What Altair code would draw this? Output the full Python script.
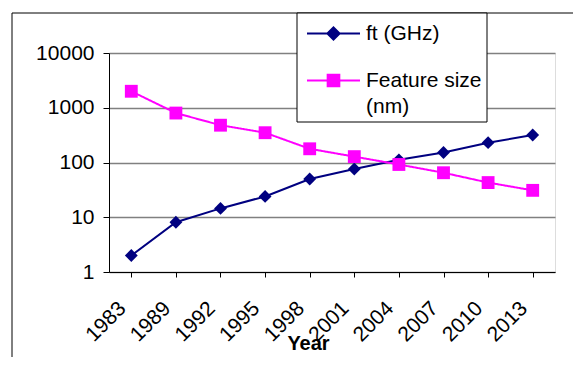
import altair as alt
import pandas as pd

years = ['1983', '1989', '1992', '1995', '1998', '2001', '2004', '2007', '2010', '2013']
ft_ghz = [2, 8.1, 14.5, 24, 50, 76, 112, 152, 230, 318]
feature_nm = [2000, 800, 480, 350, 178, 128, 92, 65, 43, 31]
series_names = ['ft (GHz)', 'Feature size (nm)']
series_colors = ['#000080', '#FF00FF']

df_ft = pd.DataFrame({'Year': years, 'value': ft_ghz, 'series': series_names[0]})
df_fs = pd.DataFrame({'Year': years, 'value': feature_nm, 'series': series_names[1]})

FONT = 'Liberation Sans'
FS = 21
W, H = 446, 219

x_enc = alt.X('Year:N', sort=years,
              scale=alt.Scale(paddingInner=0, paddingOuter=0),
              axis=alt.Axis(title='Year', bandPosition=0, labelAngle=-45, labelAlign='right',
                            labelBaseline='middle', labelOffset=-9, labelPadding=28,
                            labelFontSize=FS, labelFont=FONT, labelColor='black',
                            tickSize=5, tickColor='black', domainColor='black',
                            titleFont=FONT, titleFontSize=20, titleFontWeight='bold',
                            titleColor='black', titleX=199, titleY=71, titleBaseline='middle',
                            titleAlign='center'))
y_enc = alt.Y('value:Q',
              scale=alt.Scale(type='log', domain=[1, 10000], nice=False),
              axis=alt.Axis(title=None, values=[1, 10, 100, 1000, 10000], format='d',
                            labelFontSize=FS, labelFont=FONT, labelColor='black',
                            labelPadding=9, tickSize=6, tickColor='black',
                            domainColor='black', grid=True, gridColor='#808080',
                            gridWidth=1.5))

sym_ft = 'M-1,0L1,0M-0.23,0L0,-0.23L0.23,0L0,0.23Z'
sym_fs = 'M-1,0L1,0M-0.22,-0.22L0.22,-0.22L0.22,0.22L-0.22,0.22Z'

def legend_for(sym, color, lx, ly, expr=None, opacity=1):
    kw = dict(title=None, orient='none', legendX=lx, legendY=ly, padding=0,
              symbolType=sym, symbolSize=2809, symbolStrokeWidth=2,
              symbolFillColor=color, symbolStrokeColor=color, symbolOpacity=opacity,
              labelFont=FONT, labelFontSize=FS, labelColor='black', labelOffset=5,
              labelBaseline='middle', labelLimit=300)
    if expr:
        kw['labelExpr'] = expr
    return alt.Legend(**kw)

line_ft = alt.Chart(df_ft).mark_line(color=series_colors[0], strokeWidth=2).encode(x=x_enc, y=y_enc)
pts_ft = alt.Chart(df_ft).mark_point(shape='diamond', filled=True, size=165, opacity=1).encode(
    x=x_enc, y=y_enc,
    color=alt.Color('series:N', scale=alt.Scale(domain=[series_names[0]], range=[series_colors[0]]),
                    legend=legend_for(sym_ft, series_colors[0], 197, -47)))
line_fs = alt.Chart(df_fs).mark_line(color=series_colors[1], strokeWidth=2).encode(
    x=x_enc, y=y_enc,
    strokeDash=alt.StrokeDash('series:N', scale=alt.Scale(domain=[series_names[1]], range=[[1, 0]]),
                              legend=legend_for(sym_fs, series_colors[1], 197, 26,
                                                "'(nm)'", opacity=0)))
pts_fs = alt.Chart(df_fs).mark_point(shape='square', filled=True, size=165, opacity=1).encode(
    x=x_enc, y=y_enc,
    color=alt.Color('series:N', scale=alt.Scale(domain=[series_names[1]], range=[series_colors[1]]),
                    legend=legend_for(sym_fs, series_colors[1], 197, 0, "'Feature size'")))

frame = alt.Chart().mark_rect(fillOpacity=0, stroke='black', strokeWidth=1).encode(
    x=alt.value(-97), x2=alt.value(700), y=alt.value(-40), y2=alt.value(500))
legend_box = alt.Chart().mark_rect(fill='white', stroke='black', strokeWidth=1).encode(
    x=alt.value(188), x2=alt.value(378), y=alt.value(-40), y2=alt.value(69))

chart = alt.layer(frame, line_ft, line_fs, pts_ft, pts_fs, legend_box).resolve_scale(
    color='independent', strokeDash='independent').resolve_legend(
    color='independent', strokeDash='independent').properties(
    width=W, height=H,
    autosize=alt.AutoSizeParams(type='none'),
    padding={'left': 101, 'top': 45, 'right': 18, 'bottom': 85},
).configure_view(stroke='#808080', strokeWidth=2).configure(background='white')

chart.save('out.html', embed_options={'renderer': 'svg', 'actions': False})
